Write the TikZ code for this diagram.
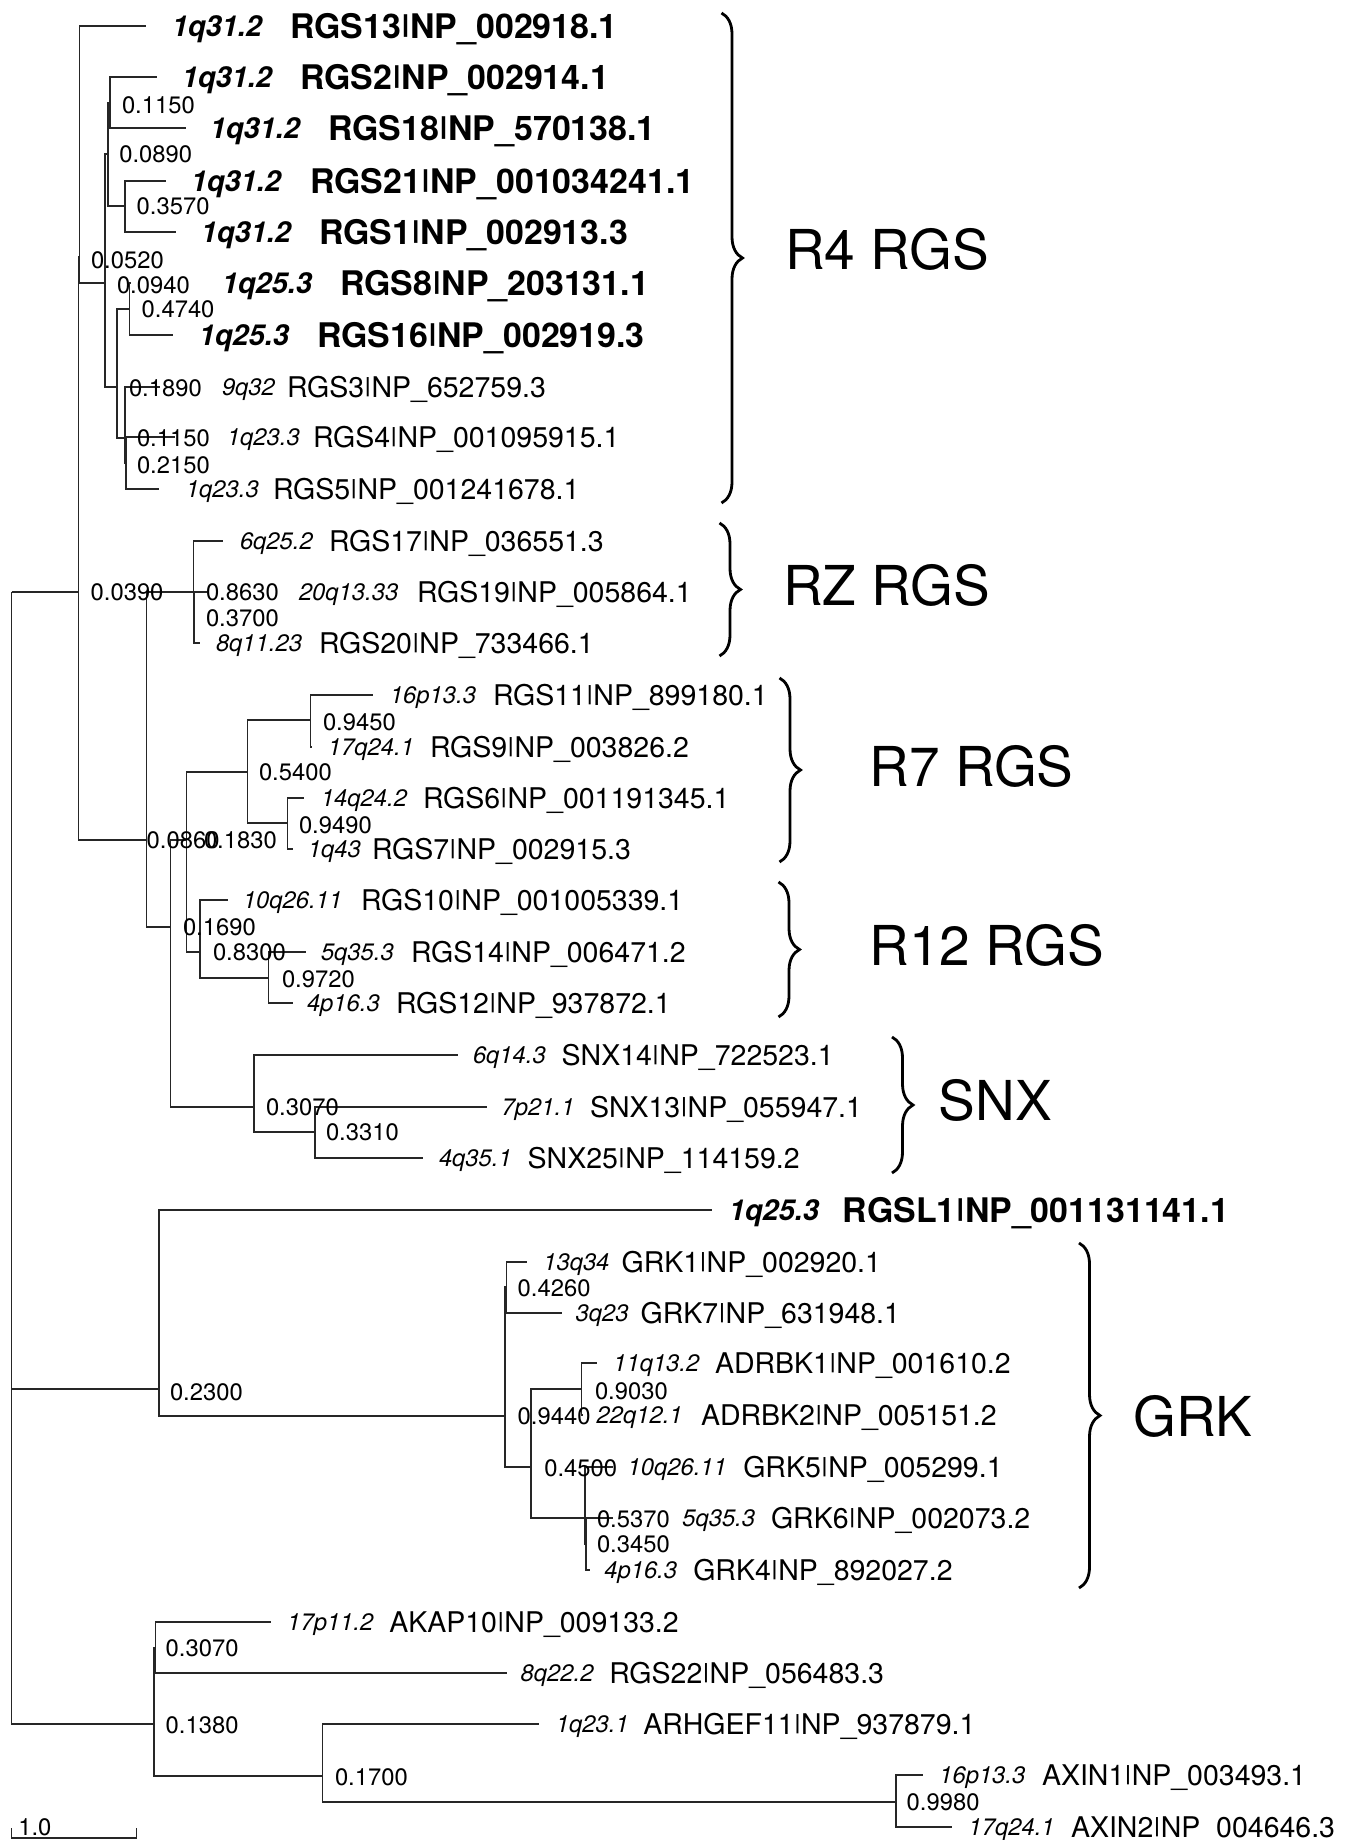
\documentclass[tikz,border=0pt]{standalone}
\usepackage{fontspec}
\usepackage{graphicx}
\setmainfont{TeX Gyre Heros}
\usetikzlibrary{decorations.pathreplacing}
\newcommand\edg[2]{\draw[branch] (#1) |- (#2);}
\newcommand\leafR[6]{\node[locr] (loc#1) at (#3,#2) {#5};\node[namer] (nm#1) at (#4,#2) {#6};}
\newcommand\leafB[6]{\node[locb] (loc#1) at (#3,#2) {#5};\node[nameb] (nm#1) at (#4,#2) {#6};}
\newcommand\supv[4]{\node[supp] (s#1) at (#2,#3) {#4};}
\newcommand\pipebar{\raisebox{0.16em}{\scalebox{1}[0.72]{|}}}
\begin{document}
\begin{tikzpicture}[x=0.5pt,y=-0.5pt,
  branch/.style={draw=black!85,line width=0.6pt},
  txt/.style={anchor=base west,inner sep=0pt,outer sep=0pt},
  supp/.style={txt,font=\fontsize{11.9}{14}\selectfont,yshift=-4.3pt},
  locr/.style={txt,font=\fontsize{11.9}{14}\selectfont\itshape,yshift=-4.3pt},
  namer/.style={txt,font=\fontsize{14.25}{17}\selectfont,yshift=-5.1pt},
  locb/.style={txt,font=\fontsize{14.45}{17}\selectfont\bfseries\itshape,yshift=-5.2pt},
  nameb/.style={txt,font=\fontsize{16.95}{20}\selectfont\bfseries,yshift=-6.1pt},
  grp/.style={txt,font=\fontsize{27.5}{33}\selectfont,yshift=-9.9pt},
  bracestyle/.style={draw=black,line width=1.4pt,decorate,decoration={brace,amplitude=10.5pt}}]
\useasboundingbox[fill=white] (0,0) rectangle (1346,1840);
% internal nodes (x of node, y where it joins its parent)
\coordinate (root) at (11.7,592);
\coordinate (A0) at (78.3,592);
\coordinate (A1) at (79.3,257);
\coordinate (N105) at (105,283);
\coordinate (N108) at (108,154);
\coordinate (N110) at (110,103);
\coordinate (N125c) at (125,206);
\coordinate (N117) at (117,387);
\coordinate (N129) at (129.3,309);
\coordinate (N125a) at (125,438);
\coordinate (N125b) at (126,463);
\coordinate (N147) at (146.7,840);
\coordinate (RZa) at (193.3,592);
\coordinate (RZb) at (194,618);
\coordinate (N171) at (170.7,927);
\coordinate (N187) at (186.7,840);
\coordinate (N247) at (247.3,772);
\coordinate (N311) at (310.7,720);
\coordinate (N288) at (287.3,823);
\coordinate (N200) at (200,952);
\coordinate (N268) at (268.3,978);
\coordinate (N254) at (254,1107);
\coordinate (N315) at (315,1132);
\coordinate (N159) at (159,1389);
\coordinate (N505b) at (505,1416);
\coordinate (N505a) at (506.5,1287);
\coordinate (N531) at (531,1467);
\coordinate (N582) at (581.7,1389);
\coordinate (N585a) at (585,1518);
\coordinate (N585b) at (586,1544);
\coordinate (N154b) at (154,1724);
\coordinate (N154a) at (155.3,1648);
\coordinate (N322) at (322.3,1776);
\coordinate (N895) at (896,1802);
% leaf ends
\coordinate (RGS13) at (146,26);
\coordinate (RGS2) at (157,77);
\coordinate (RGS18) at (186,128);
\coordinate (RGS21) at (166,181);
\coordinate (RGS1) at (176,232);
\coordinate (RGS8) at (131,283);
\coordinate (RGS16) at (173,335);
\coordinate (RGS3) at (160,387);
\coordinate (RGS4) at (175,437);
\coordinate (RGS5) at (159,489);
\coordinate (RGS17) at (223,541);
\coordinate (RGS19) at (207,592);
\coordinate (RGS20) at (200,643);
\coordinate (RGS11) at (372.7,695);
\coordinate (RGS9) at (311.5,747);
\coordinate (RGS6) at (304,798);
\coordinate (RGS7) at (293,849);
\coordinate (RGS10) at (228,900);
\coordinate (RGS14) at (306,952);
\coordinate (RGS12) at (293,1003);
\coordinate (SNX14) at (458,1055);
\coordinate (SNX13) at (487,1107);
\coordinate (SNX25) at (423,1158);
\coordinate (RGSL1) at (712,1210);
\coordinate (GRK1) at (526.7,1262);
\coordinate (GRK7) at (561.7,1313);
\coordinate (ADRBK1) at (596.7,1363);
\coordinate (ADRBK2) at (583,1415);
\coordinate (GRK5) at (613,1467);
\coordinate (GRK6) at (613,1518);
\coordinate (GRK4) at (590,1570);
\coordinate (AKAP10) at (270.7,1622);
\coordinate (RGS22) at (506.7,1673);
\coordinate (ARHGEF11) at (539.3,1724);
\coordinate (AXIN1) at (923.3,1775);
\coordinate (AXIN2) at (951.7,1827);
% branches
\edg{root}{A0}\edg{root}{N159}\edg{root}{N154b}
\edg{A0}{A1}\edg{A0}{N147}
\edg{A1}{RGS13}\edg{A1}{N105}
\edg{N105}{N108}\edg{N105}{N117}
\edg{N108}{N110}\edg{N108}{N125c}
\edg{N110}{RGS2}\edg{N110}{RGS18}
\edg{N125c}{RGS21}\edg{N125c}{RGS1}
\edg{N117}{N129}\edg{N117}{N125a}
\edg{N129}{RGS8}\edg{N129}{RGS16}
\edg{N125a}{RGS3}\edg{N125a}{N125b}
\edg{N125b}{RGS4}\edg{N125b}{RGS5}
\edg{N147}{RZa}\edg{N147}{N171}
\edg{RZa}{RGS17}\edg{RZa}{RZb}
\edg{RZb}{RGS19}\edg{RZb}{RGS20}
\edg{N171}{N187}\edg{N171}{N254}
\edg{N187}{N247}\edg{N187}{N200}
\edg{N247}{N311}\edg{N247}{N288}
\edg{N311}{RGS11}\edg{N311}{RGS9}
\edg{N288}{RGS6}\edg{N288}{RGS7}
\edg{N200}{RGS10}\edg{N200}{N268}
\edg{N268}{RGS14}\edg{N268}{RGS12}
\edg{N254}{SNX14}\edg{N254}{N315}
\edg{N315}{SNX13}\edg{N315}{SNX25}
\edg{N159}{RGSL1}\edg{N159}{N505b}
\edg{N505b}{N505a}\edg{N505b}{N531}
\edg{N505a}{GRK1}\edg{N505a}{GRK7}
\edg{N531}{N582}\edg{N531}{N585a}
\edg{N582}{ADRBK1}\edg{N582}{ADRBK2}
\edg{N585a}{GRK5}\edg{N585a}{N585b}
\edg{N585b}{GRK6}\edg{N585b}{GRK4}
\edg{N154b}{N154a}\edg{N154b}{N322}
\edg{N154a}{AKAP10}\edg{N154a}{RGS22}
\edg{N322}{ARHGEF11}\edg{N322}{N895}
\edg{N895}{AXIN1}\edg{N895}{AXIN2}
% support values
\supv{A0}{90.7}{592}{0.0390}
\supv{A1}{91}{260}{0.0520}
\supv{N105}{117}{285}{0.0940}
\supv{N108}{119.3}{154}{0.0890}
\supv{N110}{122}{105}{0.1150}
\supv{N125c}{136.7}{206}{0.3570}
\supv{N117}{129}{388}{0.1890}
\supv{N129}{141.7}{309}{0.4740}
\supv{N125a}{137}{438}{0.1150}
\supv{N125b}{137}{465}{0.2150}
\supv{N147}{146.7}{840}{0.0860}
\supv{RZa}{206}{592}{0.8630}
\supv{RZb}{206}{618}{0.3700}
\supv{N171}{183}{927}{0.1690}
\supv{N187}{204}{840}{0.1830}
\supv{N247}{259}{772}{0.5400}
\supv{N311}{323}{722}{0.9450}
\supv{N288}{299}{825}{0.9490}
\supv{N200}{213}{952}{0.8300}
\supv{N268}{282}{979}{0.9720}
\supv{N254}{266}{1107}{0.3070}
\supv{N315}{326}{1132}{0.3310}
\supv{N159}{170}{1392}{0.2300}
\supv{N505a}{517.7}{1288}{0.4260}
\supv{N505b}{517.7}{1416}{0.9440}
\supv{N531}{544.3}{1468}{0.4500}
\supv{N582}{595}{1391}{0.9030}
\supv{N585a}{597}{1519}{0.5370}
\supv{N585b}{597}{1544}{0.3450}
\supv{N154a}{165.7}{1648}{0.3070}
\supv{N154b}{165.7}{1725}{0.1380}
\supv{N322}{335}{1777}{0.1700}
\supv{N895}{906.7}{1802}{0.9980}
% leaf labels
\leafB{RGS13}{26}{172}{290}{1q31.2}{RGS13\pipebar NP\_002918.1}
\leafB{RGS2}{77}{182}{300}{1q31.2}{RGS2\pipebar NP\_002914.1}
\leafB{RGS18}{128}{210}{328}{1q31.2}{RGS18\pipebar NP\_570138.1}
\leafB{RGS21}{181}{191}{310}{1q31.2}{RGS21\pipebar NP\_001034241.1}
\leafB{RGS1}{232}{201}{319}{1q31.2}{RGS1\pipebar NP\_002913.3}
\leafB{RGS8}{283}{222}{340}{1q25.3}{RGS8\pipebar NP\_203131.1}
\leafB{RGS16}{335}{199}{317}{1q25.3}{RGS16\pipebar NP\_002919.3}
\leafR{RGS3}{387}{222}{287}{9q32}{RGS3\pipebar NP\_652759.3}
\leafR{RGS4}{437}{227}{313}{1q23.3}{RGS4\pipebar NP\_001095915.1}
\leafR{RGS5}{489}{186}{273}{1q23.3}{RGS5\pipebar NP\_001241678.1}
\leafR{RGS17}{541}{240}{329}{6q25.2}{RGS17\pipebar NP\_036551.3}
\leafR{RGS19}{592}{299}{417}{20q13.33}{RGS19\pipebar NP\_005864.1}
\leafR{RGS20}{643}{216}{319}{8q11.23}{RGS20\pipebar NP\_733466.1}
\leafR{RGS11}{695}{390}{493}{16p13.3}{RGS11\pipebar NP\_899180.1}
\leafR{RGS9}{747}{328}{430}{17q24.1}{RGS9\pipebar NP\_003826.2}
\leafR{RGS6}{798}{321}{423}{14q24.2}{RGS6\pipebar NP\_001191345.1}
\leafR{RGS7}{849}{308}{372}{1q43}{RGS7\pipebar NP\_002915.3}
\leafR{RGS10}{900}{243}{361}{10q26.11}{RGS10\pipebar NP\_001005339.1}
\leafR{RGS14}{952}{321}{411}{5q35.3}{RGS14\pipebar NP\_006471.2}
\leafR{RGS12}{1003}{307}{396}{4p16.3}{RGS12\pipebar NP\_937872.1}
\leafR{SNX14}{1055}{473}{561.7}{6q14.3}{SNX14\pipebar NP\_722523.1}
\leafR{SNX13}{1107}{501.7}{590}{7p21.1}{SNX13\pipebar NP\_055947.1}
\leafR{SNX25}{1158}{439}{527.7}{4q35.1}{SNX25\pipebar NP\_114159.2}
\leafB{RGSL1}{1210}{729}{842.7}{1q25.3}{RGSL1\pipebar NP\_001131141.1}
\leafR{GRK1}{1262}{543.3}{621.7}{13q34}{GRK1\pipebar NP\_002920.1}
\leafR{GRK7}{1313}{575.7}{640.7}{3q23}{GRK7\pipebar NP\_631948.1}
\leafR{ADRBK1}{1363}{613.3}{715}{11q13.2}{ADRBK1\pipebar NP\_001610.2}
\leafR{ADRBK2}{1415}{596.7}{701}{22q12.1}{ADRBK2\pipebar NP\_005151.2}
\leafR{GRK5}{1467}{627.7}{743.3}{10q26.11}{GRK5\pipebar NP\_005299.1}
\leafR{GRK6}{1518}{682.3}{771}{5q35.3}{GRK6\pipebar NP\_002073.2}
\leafR{GRK4}{1570}{604.3}{693.3}{4p16.3}{GRK4\pipebar NP\_892027.2}
\leafR{AKAP10}{1622}{287.3}{389.3}{17p11.2}{AKAP10\pipebar NP\_009133.2}
\leafR{RGS22}{1673}{520.7}{609.3}{8q22.2}{RGS22\pipebar NP\_056483.3}
\leafR{ARHGEF11}{1724}{556}{643.3}{1q23.1}{ARHGEF11\pipebar NP\_937879.1}
\leafR{AXIN1}{1775}{939.3}{1042}{16p13.3}{AXIN1\pipebar NP\_003493.1}
\leafR{AXIN2}{1827}{968.7}{1071}{17q24.1}{AXIN2\pipebar NP\_004646.3}
% group braces and labels
\coordinate (b4t) at (721.5,13);   \coordinate (b4b) at (721.5,503);
\coordinate (bZt) at (719.5,523);  \coordinate (bZb) at (719.5,656);
\coordinate (b7t) at (779.5,678);  \coordinate (b7b) at (779.5,862);
\coordinate (b12t) at (778.5,882); \coordinate (b12b) at (778.5,1017);
\coordinate (bSt) at (892,1037);   \coordinate (bSb) at (892,1173);
\coordinate (bGt) at (1079,1243);  \coordinate (bGb) at (1079,1588);
\draw[bracestyle] (b4t) -- (b4b);
\draw[bracestyle] (bZt) -- (bZb);
\draw[bracestyle] (b7t) -- (b7b);
\draw[bracestyle] (b12t) -- (b12b);
\draw[bracestyle] (bSt) -- (bSb);
\draw[bracestyle] (bGt) -- (bGb);
\node[grp] (gR4) at (785,250) {R4 RGS};
\node[grp] (gRZ) at (783,585.6) {RZ RGS};
\node[grp] (gR7) at (869.6,766.3) {R7 RGS};
\node[grp] (gR12) at (869.6,945.8) {R12 RGS};
\node[grp] (gSNX) at (938.8,1101) {SNX};
\node[grp] (gGRK) at (1133.3,1416.7) {GRK};
% scale bar
\coordinate (sbl) at (11.7,1828);
\coordinate (sbr) at (136.7,1828);
\draw[branch] (sbl) |- (sbr |- 0,1838) -- (sbr);
\node[supp] (sbtext) at (18.3,1826.7) {1.0};
\end{tikzpicture}
\end{document}
